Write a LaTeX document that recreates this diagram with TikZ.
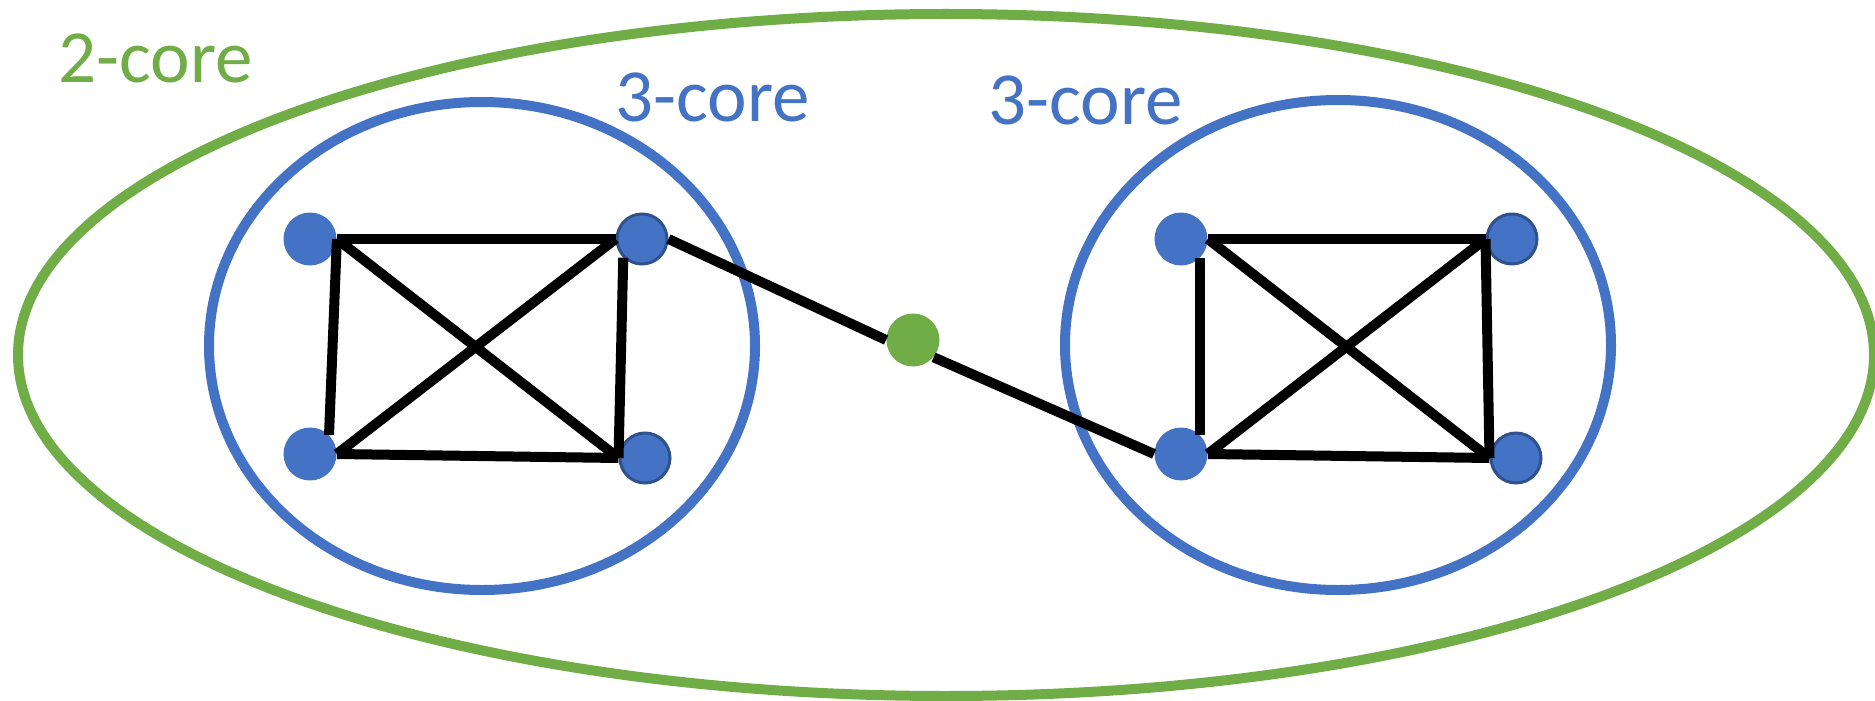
\documentclass[tikz,border=0pt]{standalone}
\usepackage{fontspec}
\setmainfont{Carlito}
\definecolor{cgreen}{HTML}{70AD47}
\definecolor{cblue}{HTML}{4472C4}
\definecolor{cdark}{HTML}{2F528F}
\begin{document}
\begin{tikzpicture}[x=0.5pt,y=-0.5pt,
  vtx/.style={circle,fill=cblue,inner sep=0pt,minimum size=26.5pt},
  vtxb/.style={circle,fill=cblue,draw=cdark,line width=1.5pt,inner sep=0pt,minimum size=25pt},
  gvtx/.style={circle,fill=cgreen,inner sep=0pt,minimum size=26.5pt},
  link/.style={line width=5pt,black},
  coreline/.style={line width=5pt},
  lbl/.style={inner sep=0pt,anchor=base west,font=\fontsize{37.5}{42}\selectfont}]
\useasboundingbox (0,0) rectangle (1875,701);
% cores
\draw[coreline,cgreen] (946,355) ellipse [x radius=464pt, y radius=170.5pt];
\draw[coreline,cblue] (482,346) ellipse [x radius=136.5pt, y radius=122pt];
\draw[coreline,cblue] (1338,345) ellipse [x radius=136.5pt, y radius=122.5pt];
% labels
\node[lbl,text=cgreen] (l2) at (58,83) {2-core};
\node[lbl,text=cblue] (l3a) at (615,122) {3-core};
\node[lbl,text=cblue] (l3b) at (988,125) {3-core};
% vertices
\node[vtx]  (A1) at (310,239) {};
\node[vtxb] (A2) at (642,239) {};
\node[vtx]  (A3) at (310,454) {};
\node[vtxb] (A4) at (645,458) {};
\node[vtx]  (B1) at (1181,239) {};
\node[vtxb] (B2) at (1512,239) {};
\node[vtx]  (B3) at (1181,454) {};
\node[vtxb] (B4) at (1516,458) {};
\node[gvtx] (G) at (913,340) {};
% left clique
\draw[link] (A1.east) -- (A2.west);
\draw[link] (A1.east) -- (A3.45);
\draw[link] (A1.east) -- (A4.west);
\draw[link] (A3.east) -- (A2.west);
\draw[link] (A3.east) -- (A4.west);
\draw[link] (A2.225) -- (A4.west);
% right clique
\draw[link] (B1.east) -- (B2.west);
\draw[link] (B1.-45) -- (B3.45);
\draw[link] (B1.east) -- (B4.west);
\draw[link] (B3.east) -- (B2.west);
\draw[link] (B3.east) -- (B4.west);
\draw[link] (B2.west) -- (B4.west);
% bridge
\draw[link] (A2.east) -- (G.west);
\draw[link] (G.-40) -- (B3.west);
\end{tikzpicture}
\end{document}
